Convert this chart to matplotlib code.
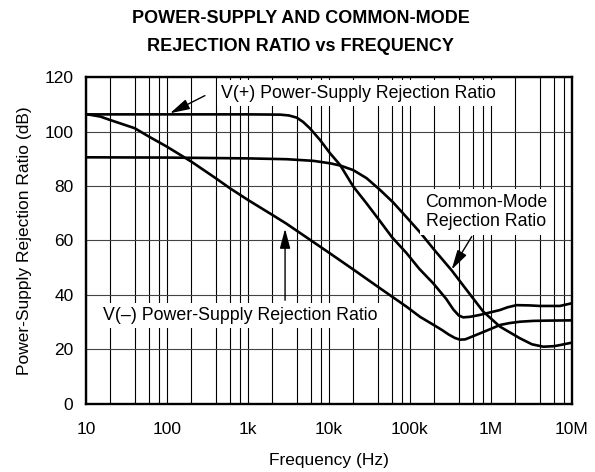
import matplotlib
matplotlib.use("Agg")
import matplotlib.pyplot as plt
import numpy as np

plt.rcParams['font.family'] = ['Liberation Sans', 'DejaVu Sans']

# V(+) power-supply rejection ratio
f_pos = [10, 100, 1e3, 2.5e3, 3.2e3, 4e3, 4.8e3, 5.8e3, 7.75e3, 10.3e3, 13.7e3, 20e3, 29e3, 41e3,
         60e3, 91e3, 130e3, 194e3, 280e3, 343e3, 400e3, 455e3, 550e3, 730e3, 1e6, 1.29e6,
         1.6e6, 2.07e6, 3e6, 4e6, 7.1e6, 10e6]
db_pos = [106.4, 106.4, 106.4, 106.3, 106.0, 105.2, 103.6, 101.3, 97.0, 92.1, 87.8, 79.8, 73.7, 67.8,
          61.2, 55.3, 49.6, 44.2, 38.5, 34.6, 32.4, 31.7, 31.9, 32.6, 33.6, 34.4,
          35.4, 36.2, 36.1, 35.9, 35.9, 36.9]

# V(-) power-supply rejection ratio
f_neg = [10, 15, 20, 40, 60, 100, 200, 400, 600, 1e3, 2e3, 2.94e3, 10e3, 20e3, 42.7e3,
         91e3, 133e3, 194e3, 250e3, 300e3, 360e3, 414e3, 480e3, 550e3, 731e3, 1.06e6, 1.29e6,
         1.7e6, 2.28e6, 3.3e6, 4.87e6, 10e6]
db_neg = [106.5, 105.6, 104.3, 101.3, 98.2, 94.5, 89.0, 82.9, 79.2, 74.9, 69.4, 66.3, 55.5, 49.3, 42.4,
          35.6, 31.9, 29.0, 27.0, 25.4, 24.1, 23.5, 23.6, 24.3, 25.8, 27.8, 28.9,
          29.6, 30.1, 30.4, 30.5, 30.6]

# common-mode rejection ratio
f_cm = [10, 100, 1e3, 3e3, 6.4e3, 10.3e3, 13.7e3, 19.9e3, 29.2e3, 42.7e3, 62e3, 91e3,
        133e3, 200e3, 327e3, 500e3, 804e3, 1.29e6, 2.28e6, 3.2e6, 4.43e6, 6e6, 7.1e6, 10e6]
db_cm = [90.6, 90.5, 90.2, 89.9, 89.3, 88.4, 87.6, 85.9, 82.9, 78.6, 74.0, 68.5,
         63.0, 56.5, 49.0, 41.8, 33.8, 28.3, 24.0, 21.8, 20.9, 21.1, 21.5, 22.4]

x_ticks = [10, 100, 1e3, 1e4, 1e5, 1e6, 1e7]
x_labels = ['10', '100', '1k', '10k', '100k', '1M', '10M']
y_ticks = [0, 20, 40, 60, 80, 100, 120]

fig = plt.figure(figsize=(5.95, 4.72), dpi=100)
ax = fig.add_axes([0.1445, 0.1451, 0.8168, 0.6909])

ax.plot(f_pos, db_pos, color='black', lw=1.9, zorder=2)
ax.plot(f_neg, db_neg, color='black', lw=1.9, zorder=2)
ax.plot(f_cm, db_cm, color='black', lw=1.9, zorder=2)

ax.set_xscale('log')
ax.set_xlim(10, 1e7)
ax.set_ylim(0, 120)
ax.set_xticks(x_ticks)
ax.set_xticklabels(x_labels)
minor = [m * d for d in [10, 100, 1e3, 1e4, 1e5, 1e6] for m in (2, 4, 6, 8)]
ax.set_xticks(minor, minor=True)
ax.set_xticklabels([], minor=True)
ax.set_yticks(y_ticks)
ax.tick_params(which='both', length=0, labelsize=12.5)
ax.tick_params(axis='x', pad=13)
ax.tick_params(axis='y', pad=9)

ax.set_axisbelow(True)
ax.grid(axis='x', which='both', color='black', lw=0.8)
ax.grid(axis='y', which='major', color='#444444', lw=0.8)
for s in ax.spines.values():
    s.set_linewidth(1.7)

ax.set_xlabel('Frequency (Hz)', fontsize=12.5, labelpad=12)
ax.set_ylabel('Power-Supply Rejection Ratio (dB)', fontsize=12.5, labelpad=9)

fig.text(0.505, 1 - 32.5 / 472, 'POWER-SUPPLY AND COMMON-MODE\nREJECTION RATIO vs FREQUENCY',
         ha='center', va='center', fontsize=13, fontweight='bold', linespacing=1.85)

box = dict(boxstyle='square,pad=0.25', fc='white', ec='none')
arr = dict(arrowstyle='-|>,head_length=0.75,head_width=0.2', color='black', lw=1,
           mutation_scale=16, shrinkA=0, shrinkB=0)

ax.text(23.4e3, 114.2, 'V(+) Power-Supply Rejection Ratio', fontsize=12.8,
        ha='center', va='center', bbox=box, zorder=2)
ax.annotate('', xy=(109, 106.8), xytext=(294, 113.3), arrowprops=arr, zorder=3)

ax.text(863e3, 70.5, 'Common-Mode\nRejection Ratio', fontsize=12.8,
        ha='center', va='center', bbox=box, zorder=2)
ax.annotate('', xy=(327e3, 49.3), xytext=(578e3, 61.4), arrowprops=arr, zorder=3)

ax.text(796, 32.4, 'V(\u2013) Power-Supply Rejection Ratio', fontsize=12.8,
        ha='center', va='center', bbox=box, zorder=2)
ax.annotate('', xy=(2.87e3, 64.3), xytext=(2.87e3, 38.0), arrowprops=arr, zorder=3)

fig.savefig('out.png', dpi=100)
